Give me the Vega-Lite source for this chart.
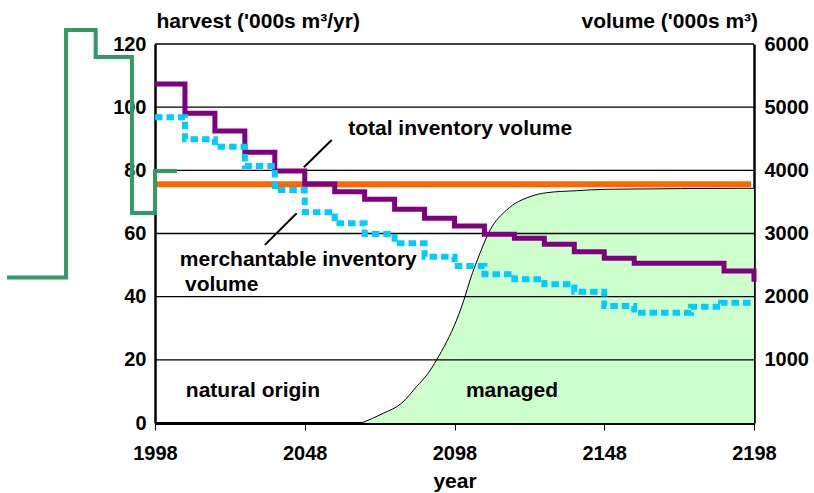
{
  "$schema": "https://vega.github.io/schema/vega-lite/v6.json",
  "width": 599,
  "height": 379,
  "autosize": {"type": "none"},
  "padding": {"left": 155, "top": 44, "right": 60, "bottom": 70},
  "background": "white",
  "config": {
    "view": {"stroke": null},
    "font": "Liberation Sans",
    "axis": {
      "labelFont": "Liberation Sans",
      "labelFontWeight": "bold",
      "labelFontSize": 20,
      "labelColor": "black",
      "titleFont": "Liberation Sans",
      "titleFontWeight": "bold",
      "titleFontSize": 21,
      "titleColor": "black",
      "domainColor": "black",
      "grid": false,
      "zindex": 1
    },
    "axisX": {
      "format": "d",
      "tickSize": 7,
      "tickColor": "black",
      "tickWidth": 1,
      "labelPadding": 13,
      "domainWidth": 3,
      "labelFlush": false,
      "labelOverlap": false,
      "titleY": 64,
      "titleBaseline": "alphabetic"
    }
  },
  "datasets": {
    "managed": [
      {"year": 2067.0, "vol": 0},
      {"year": 2074.2, "vol": 153},
      {"year": 2080.3, "vol": 312},
      {"year": 2085.3, "vol": 575},
      {"year": 2089.2, "vol": 787},
      {"year": 2092.0, "vol": 997},
      {"year": 2095.4, "vol": 1287},
      {"year": 2098.7, "vol": 1631},
      {"year": 2101.5, "vol": 2000},
      {"year": 2103.2, "vol": 2264},
      {"year": 2106.5, "vol": 2687},
      {"year": 2109.9, "vol": 3056},
      {"year": 2115.4, "vol": 3372},
      {"year": 2123.2, "vol": 3583},
      {"year": 2128.8, "vol": 3646},
      {"year": 2138.8, "vol": 3678},
      {"year": 2148.8, "vol": 3700},
      {"year": 2198.0, "vol": 3716}
    ],
    "grid": [{"g": 20}, {"g": 40}, {"g": 60}, {"g": 80}, {"g": 100}, {"g": 120}],
    "harvest": [{"year": 1998, "h": 75.6}, {"year": 2197, "h": 75.6}],
    "total": [
      {"year": 1998, "vol": 5367},
      {"year": 2008, "vol": 4903},
      {"year": 2018, "vol": 4623},
      {"year": 2028, "vol": 4286},
      {"year": 2038, "vol": 3990},
      {"year": 2048, "vol": 3784},
      {"year": 2058, "vol": 3662},
      {"year": 2068, "vol": 3542},
      {"year": 2078, "vol": 3383},
      {"year": 2088, "vol": 3241},
      {"year": 2098, "vol": 3119},
      {"year": 2108, "vol": 2988},
      {"year": 2118, "vol": 2924},
      {"year": 2128, "vol": 2829},
      {"year": 2138, "vol": 2712},
      {"year": 2148, "vol": 2608},
      {"year": 2158, "vol": 2528},
      {"year": 2188, "vol": 2407},
      {"year": 2198, "vol": 2237}
    ],
    "merch": [
      {"year": 1998, "vol": 4840},
      {"year": 2008, "vol": 4492},
      {"year": 2018, "vol": 4375},
      {"year": 2028, "vol": 4069},
      {"year": 2038, "vol": 3689},
      {"year": 2048, "vol": 3336},
      {"year": 2058, "vol": 3162},
      {"year": 2068, "vol": 2992},
      {"year": 2078, "vol": 2845},
      {"year": 2088, "vol": 2633},
      {"year": 2098, "vol": 2486},
      {"year": 2108, "vol": 2354},
      {"year": 2118, "vol": 2275},
      {"year": 2128, "vol": 2196},
      {"year": 2138, "vol": 2079},
      {"year": 2148, "vol": 1852},
      {"year": 2158, "vol": 1746},
      {"year": 2177, "vol": 1841},
      {"year": 2187, "vol": 1905},
      {"year": 2198, "vol": 1905}
    ],
    "history": [
      {"year": 1948.6, "h": 46.1},
      {"year": 1968.3, "h": 124.4},
      {"year": 1978.2, "h": 115.9},
      {"year": 1990.3, "h": 66.5},
      {"year": 1998.0, "h": 79.8},
      {"year": 2005.3, "h": 79.8}
    ],
    "leaders": [
      {"x1": 2047.7, "y1": 81.0, "x2": 2057.0, "y2": 89.6},
      {"x1": 2045.3, "y1": 66.4, "x2": 2034.7, "y2": 56.4}
    ],
    "labels": [
      {"year": 2062.5, "h": 91.1, "label": "total inventory volume"},
      {"year": 2006.3, "h": 49.6, "label": "merchantable inventory"},
      {"year": 2008.0, "h": 41.7, "label": "volume"},
      {"year": 2008.3, "h": 8.3, "label": "natural origin"},
      {"year": 2101.8, "h": 8.3, "label": "managed"}
    ]
  },
  "resolve": {"scale": {"y": "independent"}},
  "layer": [
    {
      "data": {"name": "managed"},
      "mark": {"type": "area", "interpolate": "monotone", "color": "#CCFFCC", "opacity": 1, "line": {"color": "black", "strokeWidth": 1}},
      "encoding": {
        "x": {"field": "year", "type": "quantitative", "title": "year", "scale": {"domain": [1998, 2198], "nice": false, "zero": false},
          "axis": {"values": [1998, 2048, 2098, 2148, 2198], "format": "d", "tickSize": 7, "labelPadding": 13, "domainWidth": 3, "labelFlush": false, "labelOverlap": false, "title": "year", "titleY": 64, "titleBaseline": "alphabetic"}},
        "y": {"field": "vol", "type": "quantitative", "scale": {"domain": [0, 6000], "nice": false},
          "axis": {"orient": "right", "values": [1000, 2000, 3000, 4000, 5000, 6000], "format": "d", "ticks": false, "tickSize": 0, "labelPadding": 10, "domainWidth": 2.5, "title": "volume ('000s m³)", "titleAngle": 0, "titleAlign": "left", "titleBaseline": "alphabetic", "titleX": -173, "titleY": -17}}
      }
    },
    {
      "data": {"name": "grid"},
      "mark": {"type": "rule", "color": "black", "strokeWidth": 1.3},
      "encoding": {
        "y": {"field": "g", "type": "quantitative", "scale": {"domain": [0, 120], "nice": false},
          "axis": {"orient": "left", "values": [0, 20, 40, 60, 80, 100, 120], "ticks": false, "tickSize": 0, "labelPadding": 9, "domainWidth": 2.5, "title": "harvest ('000s m³/yr)", "titleAngle": 0, "titleAlign": "left", "titleBaseline": "alphabetic", "titleX": 1, "titleY": -17}}
      }
    },
    {
      "data": {"name": "harvest"},
      "mark": {"type": "line", "color": "#FF6600", "strokeWidth": 6},
      "encoding": {
        "x": {"field": "year", "type": "quantitative", "title": "year", "scale": {"domain": [1998, 2198], "nice": false, "zero": false}},
        "y": {"field": "h", "type": "quantitative", "scale": {"domain": [0, 120], "nice": false}, "axis": null}
      }
    },
    {
      "data": {"name": "total"},
      "mark": {"type": "line", "interpolate": "step-after", "color": "#800080", "strokeWidth": 5},
      "encoding": {
        "x": {"field": "year", "type": "quantitative", "title": "year", "scale": {"domain": [1998, 2198], "nice": false, "zero": false}},
        "y": {"field": "vol", "type": "quantitative", "scale": {"domain": [0, 6000], "nice": false}, "axis": null}
      }
    },
    {
      "data": {"name": "merch"},
      "mark": {"type": "line", "interpolate": "step-after", "color": "#00CCFF", "strokeWidth": 6, "strokeDash": [7.5, 4]},
      "encoding": {
        "x": {"field": "year", "type": "quantitative", "title": "year", "scale": {"domain": [1998, 2198], "nice": false, "zero": false}},
        "y": {"field": "vol", "type": "quantitative", "scale": {"domain": [0, 6000], "nice": false}, "axis": null}
      }
    },
    {
      "data": {"name": "history"},
      "mark": {"type": "line", "interpolate": "step-after", "color": "#339966", "strokeWidth": 4, "clip": false},
      "encoding": {
        "x": {"field": "year", "type": "quantitative", "title": "year", "scale": {"domain": [1998, 2198], "nice": false, "zero": false}},
        "y": {"field": "h", "type": "quantitative", "scale": {"domain": [0, 120], "nice": false}, "axis": null}
      }
    },
    {
      "data": {"name": "leaders"},
      "mark": {"type": "rule", "color": "black", "strokeWidth": 2},
      "encoding": {
        "x": {"field": "x1", "type": "quantitative", "title": "year", "scale": {"domain": [1998, 2198], "nice": false, "zero": false}},
        "x2": {"field": "x2"},
        "y": {"field": "y1", "type": "quantitative", "scale": {"domain": [0, 120], "nice": false}, "axis": null},
        "y2": {"field": "y2"}
      }
    },
    {
      "data": {"name": "labels"},
      "mark": {"type": "text", "align": "left", "baseline": "alphabetic", "font": "Liberation Sans", "fontWeight": "bold", "fontSize": 21, "color": "black"},
      "encoding": {
        "x": {"field": "year", "type": "quantitative", "title": "year", "scale": {"domain": [1998, 2198], "nice": false, "zero": false}},
        "y": {"field": "h", "type": "quantitative", "scale": {"domain": [0, 120], "nice": false}, "axis": null},
        "text": {"field": "label"}
      }
    }
  ]
}
